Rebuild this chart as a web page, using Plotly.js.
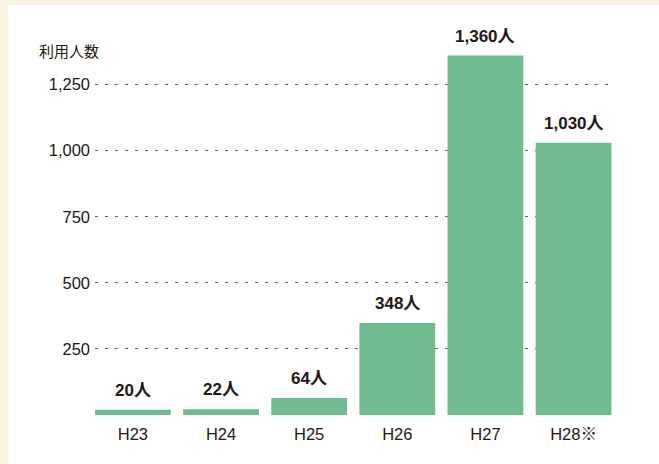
<!DOCTYPE html>
<html>
<head>
<meta charset="utf-8">
<script src="https://cdn.plot.ly/plotly-3.0.1.min.js"></script>
<style>
  html, body { margin: 0; padding: 0; background: #f8f2e0; width: 659px; height: 464px; overflow: hidden; }
  #chart { position: absolute; left: 8px; top: 5px; width: 651px; height: 459px; background: #ffffff; }
</style>
</head>
<body>
<div id="chart"></div>
<script>
const categories = ["H23", "H24", "H25", "H26", "H27", "H28※"];
const users = [20, 22, 64, 348, 1360, 1030];
const valueLabels = ["20人", "22人", "64人", "348人", "1,360人", "1,030人"];
const yTickVals = [250, 500, 750, 1000, 1250];
const yTickText = ["250", "500", "750", "1,000", "1,250"];
const yAxisLabel = "利用人数";

const FONT = "Liberation Sans, Noto Sans CJK JP, sans-serif";
const TXT = "#231815";

const trace = {
  type: "bar",
  x: categories,
  y: users,
  marker: { color: "#70bb8f", line: { width: 0 } },
  hoverinfo: "none"
};

const annotations = categories.map((c, i) => ({
  x: c, y: users[i], xref: "x", yref: "y",
  text: valueLabels[i],
  showarrow: false, yanchor: "bottom", yshift: 8,
  font: { family: FONT, size: 17, color: TXT, weight: "bold" }
}));
annotations.push({
  x: 0, xref: "paper", xanchor: "right", xshift: 6,
  y: 1, yref: "paper", yanchor: "middle", yshift: -5,
  text: yAxisLabel, showarrow: false,
  font: { family: "Noto Sans CJK JP, sans-serif", size: 15, color: TXT },
  align: "left"
});

const layout = {
  width: 651, height: 459,
  margin: { l: 87, r: 44, t: 40, b: 49 },
  paper_bgcolor: "#ffffff",
  plot_bgcolor: "#ffffff",
  showlegend: false,
  bargap: 0.14,
  font: { family: FONT, size: 16, color: TXT },
  xaxis: {
    type: "category",
    range: [-0.43, 5.47],
    showgrid: false, zeroline: false, showline: false,
    ticks: "", tickfont: { family: FONT, size: 16.5, color: TXT },
    ticklabelstandoff: 7
  },
  yaxis: {
    range: [0, 1400],
    tickvals: yTickVals, ticktext: yTickText,
    showgrid: true, gridcolor: "#666666", gridwidth: 1, griddash: "2.5px,7.5px",
    zeroline: false, showline: false, ticks: "",
    tickfont: { family: FONT, size: 16.5, color: TXT },
    ticklabelstandoff: 4
  },
  annotations: annotations
};

Plotly.newPlot("chart", [trace], layout, { displayModeBar: false, staticPlot: true });
</script>
</body>
</html>
